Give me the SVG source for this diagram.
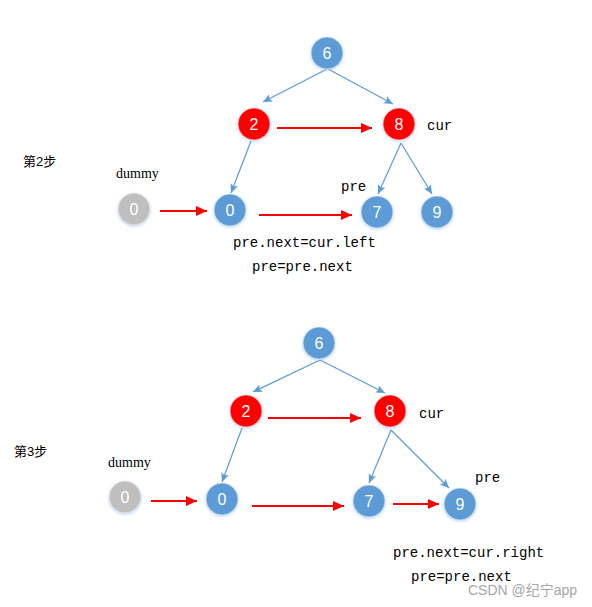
<svg xmlns="http://www.w3.org/2000/svg" width="592" height="607" viewBox="0 0 592 607">
<defs>
<style>
.nb{fill:#5B9BD5}
.nr{fill:#FF0000}
.ng{fill:#BFBFBF}
.node circle{stroke:#ffffff;stroke-width:0.5;filter:url(#sh)}
.node text{font-family:"Liberation Sans","Open Sans",sans-serif;font-size:16px;fill:#ffffff;text-anchor:middle}
.code{font-family:"Liberation Mono","DejaVu Sans Mono",monospace;font-size:14px;fill:#000}
.lbl{font-family:"Liberation Serif",serif;font-size:14px;fill:#000}
.step{font-family:"Liberation Sans","Noto Sans CJK SC",sans-serif;font-size:13px;fill:#000}
.eb{stroke:#5B9BD5;stroke-width:1.2;fill:none;marker-end:url(#ab)}
.er{stroke:#FF0000;stroke-width:2;fill:none;marker-end:url(#ar)}
</style>
<marker id="ab" markerUnits="userSpaceOnUse" markerWidth="10" markerHeight="10" refX="9" refY="4" orient="auto">
<path d="M0,0 L9,4 L0,8 L2,4 z" fill="#5B9BD5"/>
</marker>
<marker id="ar" markerUnits="userSpaceOnUse" markerWidth="12" markerHeight="12" refX="11" refY="5" orient="auto">
<path d="M0,0 L11,5 L0,10 z" fill="#FF0000"/>
</marker>
<filter id="sh" x="-30%" y="-30%" width="160%" height="160%">
<feDropShadow dx="0" dy="1" stdDeviation="1.5" flood-color="#9DC3E6" flood-opacity="0.8"/>
</filter>
</defs>
<rect width="592" height="607" fill="#ffffff"/>

<g id="connectors">
<line class="eb" x1="327" y1="69" x2="263" y2="102"/>
<line class="eb" x1="328" y1="69" x2="393" y2="104"/>
<line class="er" x1="277" y1="128" x2="372" y2="128"/>
<line class="eb" x1="251" y1="141" x2="231" y2="193"/>
<line class="eb" x1="401" y1="143" x2="378" y2="194"/>
<line class="eb" x1="401" y1="143" x2="432" y2="194"/>
<line class="er" x1="160" y1="211" x2="207" y2="211"/>
<line class="er" x1="259" y1="215" x2="352" y2="215"/>

<line class="eb" x1="320" y1="360" x2="253" y2="392"/>
<line class="eb" x1="320" y1="360" x2="385" y2="393"/>
<line class="er" x1="268" y1="418" x2="361" y2="418"/>
<line class="eb" x1="242" y1="428" x2="222" y2="482"/>
<line class="eb" x1="391" y1="430" x2="369" y2="483"/>
<line class="eb" x1="391" y1="430" x2="449" y2="488"/>
<line class="er" x1="151" y1="501" x2="197" y2="501"/>
<line class="er" x1="252" y1="506" x2="344" y2="506"/>
<line class="er" x1="393" y1="504" x2="439" y2="504"/>
</g>

<g id="t_n6" class="node"><circle class="nb" cx="327" cy="53" r="16"/><text x="327" y="59">6</text></g>
<g id="t_n2" class="node"><circle class="nr" cx="254" cy="124" r="16"/><text x="254" y="130">2</text></g>
<g id="t_n8" class="node"><circle class="nr" cx="399" cy="124" r="16"/><text x="399" y="130">8</text></g>
<g id="t_dummy" class="node"><circle class="ng" cx="134" cy="209" r="16"/><text x="134" y="215">0</text></g>
<g id="t_n0" class="node"><circle class="nb" cx="230" cy="210" r="16"/><text x="230" y="216">0</text></g>
<g id="t_n7" class="node"><circle class="nb" cx="377" cy="212" r="16"/><text x="377" y="218">7</text></g>
<g id="t_n9" class="node"><circle class="nb" cx="437" cy="212" r="16"/><text x="437" y="218">9</text></g>

<g id="b_n6" class="node"><circle class="nb" cx="319" cy="343" r="16"/><text x="319" y="349">6</text></g>
<g id="b_n2" class="node"><circle class="nr" cx="246" cy="411" r="16"/><text x="246" y="417">2</text></g>
<g id="b_n8" class="node"><circle class="nr" cx="390" cy="411" r="16"/><text x="390" y="417">8</text></g>
<g id="b_dummy" class="node"><circle class="ng" cx="125" cy="497" r="16"/><text x="125" y="503">0</text></g>
<g id="b_n0" class="node"><circle class="nb" cx="222" cy="499" r="16"/><text x="222" y="505">0</text></g>
<g id="b_n7" class="node"><circle class="nb" cx="369" cy="501" r="16"/><text x="369" y="507">7</text></g>
<g id="b_n9" class="node"><circle class="nb" cx="460" cy="504" r="16"/><text x="460" y="510">9</text></g>

<g id="labels">
<text class="step" x="23" y="166">第2步</text>
<text class="lbl" x="116" y="178">dummy</text>
<text class="code" x="427" y="130">cur</text>
<text class="code" x="341" y="191">pre</text>
<text class="code" x="233" y="247">pre.next=cur.left</text>
<text class="code" x="252" y="271">pre=pre.next</text>

<text class="step" x="14" y="456">第3步</text>
<text class="lbl" x="108" y="467">dummy</text>
<text class="code" x="419" y="418">cur</text>
<text class="code" x="475" y="482">pre</text>
<text class="code" x="393" y="557">pre.next=cur.right</text>
<text class="code" x="411" y="581">pre=pre.next</text>
<text x="468" y="595" font-family="Liberation Sans,'Noto Sans CJK SC',sans-serif" font-size="14" fill="#A6A6A6">CSDN @纪宁app</text>
</g>
</svg>
